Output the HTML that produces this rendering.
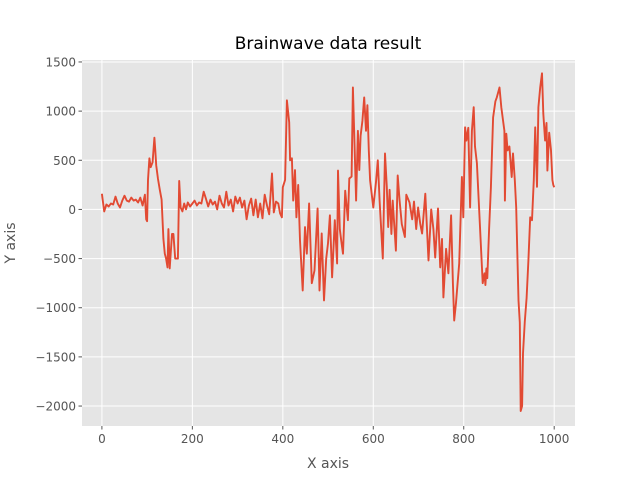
<!DOCTYPE html>
<html><head><meta charset="utf-8"><style>
body{margin:0;background:#fff;}
svg text{font-family:"DejaVu Sans","Liberation Sans",sans-serif;}
</style></head><body>
<svg id="chart" width="640" height="480" xmlns="http://www.w3.org/2000/svg">
<rect width="640" height="480" fill="#fff"/>
<rect x="82" y="60" width="493" height="366" fill="#E5E5E5"/>
<g id="grid"></g><g id="ticks"></g>
<path id="line" fill="none" stroke="#E24A33" stroke-width="1.9" stroke-linejoin="round"/>
<text x="328" y="49" text-anchor="middle" font-size="17" fill="#000">Brainwave data result</text>
<text x="328" y="468" text-anchor="middle" font-size="14" fill="#555">X axis</text>
<text x="0" y="0" transform="translate(15,243) rotate(-90)" text-anchor="middle" font-size="14" fill="#555">Y axis</text>
</svg>
<script>
const xTicks=[0,200,400,600,800,1000];
const yTicks=[1500,1000,500,0,-500,-1000,-1500,-2000];
const xs=[0,5,10,15,20,25,30,35,40,45,50,55,60,65,70,75,80,85,90,95,98,100,102,105,108,112,116,118,120,124,128,132,136,139,142,145,147,150,155,158,162,168,171,174,178,182,186,190,195,200,205,210,215,220,225,230,235,240,245,250,255,260,265,270,275,280,285,290,295,300,305,310,315,320,325,330,335,340,345,350,355,360,365,370,376,380,385,390,394,398,400,405,409,414,416,420,423,427,430,434,438,444,449,453,458,464,470,477,481,486,491,496,500,504,509,515,520,522,526,529,533,538,544,547,552,555,559,562,566,569,572,576,580,584,587,590,593,600,606,610,614,621,626,630,633,636,640,643,650,654,658,663,670,673,680,686,690,695,699,704,708,715,722,728,733,737,743,748,752,755,761,766,772,776,779,783,790,796,799,803,806,810,814,818,822,825,829,836,842,846,848,850,852,856,860,865,870,873,879,883,887,890,891,894,897,901,906,909,913,916,921,924,926,929,931,935,939,943,947,951,955,958,962,965,969,973,976,980,983,985,989,993,996,998,1000];
const ys=[160,-20,50,30,60,50,130,60,20,90,140,90,80,120,90,100,70,120,40,150,-100,-120,300,520,430,480,730,600,450,310,200,100,-300,-450,-500,-590,-200,-600,-250,-250,-500,-500,290,20,-20,60,0,70,30,60,90,40,70,60,180,110,30,100,50,80,0,140,60,20,180,40,100,-20,130,60,120,20,90,-100,40,110,-60,100,-80,60,-90,150,40,-50,365,-30,80,60,-40,-80,225,300,1110,885,500,520,90,400,-80,250,-315,-825,-180,-450,60,-750,-620,10,-825,-245,-925,-500,-345,-60,-690,-110,-550,395,-200,-315,-450,190,-110,315,335,1240,600,90,800,400,750,900,1140,800,1060,600,295,20,280,500,90,-500,570,230,-180,200,-250,90,-420,345,100,-150,-280,150,70,-100,80,-200,20,-150,-245,160,-520,0,-200,-490,10,-590,-300,-895,-400,-650,-60,-750,-1130,-950,-550,330,-80,835,700,830,20,800,1040,640,470,-180,-750,-650,-770,-600,-700,-200,225,935,1100,1140,1240,1040,900,800,90,770,600,640,330,570,300,20,-925,-1150,-2050,-2000,-1465,-1140,-900,-520,-80,-110,300,835,230,1040,1240,1385,975,700,880,395,780,600,300,250,225,240];
const X0=-44,X1=1046,Y0=-2203,Y1=1520,L=82,R=575,T=60,B=426;
function sx(v){return L+(v-X0)/(X1-X0)*(R-L);}
function sy(v){return B-(v-Y0)/(Y1-Y0)*(B-T);}
const NS="http://www.w3.org/2000/svg";
const grid=document.getElementById('grid'),ticks=document.getElementById('ticks');
function mk(tag,attrs,parent){const e=document.createElementNS(NS,tag);for(const k in attrs)e.setAttribute(k,attrs[k]);parent.appendChild(e);return e;}
xTicks.forEach(v=>{const x=sx(v);
 const g=mk('line',{x1:x,x2:x,y1:T,y2:B,stroke:'#fff','stroke-width':1},grid);
 
 
 const t=mk('line',{x1:x,x2:x,y1:B,y2:B+3.5,stroke:'#555'},ticks);
 
 
 const l=mk('text',{x:x,y:B+17,'text-anchor':'middle','font-size':12,fill:'#555'},ticks);l.textContent=v;
 
 
});
yTicks.forEach(v=>{const y=sy(v);
 const g=mk('line',{x1:L,x2:R,y1:y,y2:y,stroke:'#fff','stroke-width':1},grid);
 
 
 const t=mk('line',{x1:L-3.5,x2:L,y1:y,y2:y,stroke:'#555'},ticks);
 
 
 const l=mk('text',{x:L-6,y:y+4.5,'text-anchor':'end','font-size':12,fill:'#555'},ticks);l.textContent=(v<0?'\u2212'+(-v):v);
 
 
});
let d='';xs.forEach((v,i)=>{d+=(i?'L':'M')+sx(v).toFixed(1)+','+sy(ys[i]).toFixed(1);});
document.getElementById('line').setAttribute('d',d);
</script>
</body></html>
